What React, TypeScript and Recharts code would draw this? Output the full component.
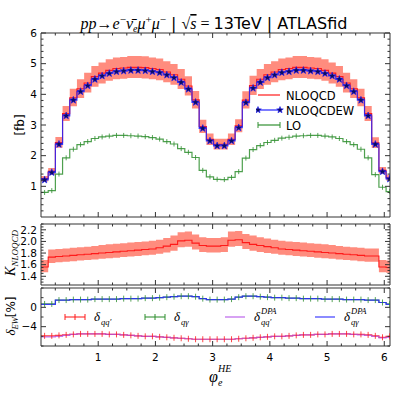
import { Area, ComposedChart, Legend, Line, Scatter, XAxis, YAxis } from "recharts"

// 50 bins in phi_e^HE over [0, 2pi]
const NBINS = 50
const binEdges = Array.from({ length: NBINS + 1 }, (_, i) => (i * 2 * Math.PI) / NBINS)
const binCenters = binEdges.slice(0, NBINS).map((e, i) => (e + binEdges[i + 1]) / 2)

// top panel [fb]
const nloqcd = [1.25, 1.49, 2.43, 3.37, 3.89, 4.18, 4.37, 4.58, 4.69, 4.78, 4.84, 4.86, 4.88, 4.88, 4.87, 4.84, 4.81, 4.73, 4.64, 4.49, 4.27, 3.82, 2.95, 2.53, 2.37,
  2.37, 2.53, 2.97, 3.81, 4.29, 4.49, 4.64, 4.73, 4.81, 4.84, 4.88, 4.88, 4.86, 4.84, 4.78, 4.69, 4.58, 4.37, 4.18, 3.89, 3.37, 2.42, 1.52, 1.28, 1.25]
const nloqcdHi = [1.34, 1.60, 2.61, 3.62, 4.18, 4.49, 4.70, 4.92, 5.04, 5.14, 5.20, 5.22, 5.25, 5.25, 5.24, 5.20, 5.17, 5.08, 4.99, 4.83, 4.59, 4.11, 3.17, 2.72, 2.55,
  2.55, 2.72, 3.19, 4.10, 4.61, 4.83, 4.99, 5.08, 5.17, 5.20, 5.25, 5.25, 5.22, 5.20, 5.14, 5.04, 4.92, 4.70, 4.49, 4.18, 3.62, 2.60, 1.63, 1.38, 1.34]
const nloqcdLo = [1.16, 1.38, 2.26, 3.13, 3.61, 3.88, 4.06, 4.25, 4.35, 4.44, 4.49, 4.51, 4.53, 4.53, 4.52, 4.49, 4.46, 4.39, 4.31, 4.17, 3.96, 3.54, 2.74, 2.35, 2.20,
  2.20, 2.35, 2.76, 3.54, 3.98, 4.17, 4.31, 4.39, 4.46, 4.49, 4.53, 4.53, 4.51, 4.49, 4.44, 4.35, 4.25, 4.06, 3.88, 3.61, 3.13, 2.25, 1.41, 1.19, 1.16]
const nloqcdew = [1.21, 1.45, 2.37, 3.30, 3.81, 4.09, 4.28, 4.49, 4.60, 4.68, 4.74, 4.76, 4.78, 4.78, 4.77, 4.74, 4.71, 4.63, 4.54, 4.39, 4.17, 3.74, 2.89, 2.48, 2.32,
  2.32, 2.48, 2.91, 3.73, 4.20, 4.39, 4.54, 4.63, 4.71, 4.74, 4.78, 4.78, 4.76, 4.74, 4.68, 4.60, 4.49, 4.28, 4.09, 3.81, 3.30, 2.37, 1.48, 1.24, 1.21]
const lo = [0.80, 0.86, 1.40, 1.93, 2.21, 2.36, 2.46, 2.56, 2.61, 2.64, 2.66, 2.66, 2.65, 2.64, 2.62, 2.59, 2.54, 2.46, 2.38, 2.23, 2.11, 1.94, 1.52, 1.31, 1.23,
  1.22, 1.29, 1.48, 1.92, 2.20, 2.33, 2.43, 2.50, 2.57, 2.60, 2.64, 2.65, 2.66, 2.66, 2.64, 2.61, 2.56, 2.46, 2.36, 2.21, 1.93, 1.38, 0.97, 0.83, 0.81]

// middle panel K factor
const kFactor = [1.56, 1.73, 1.74, 1.75, 1.76, 1.77, 1.78, 1.79, 1.80, 1.81, 1.82, 1.83, 1.84, 1.85, 1.86, 1.87, 1.89, 1.92, 1.95, 2.01, 2.02, 1.97, 1.93, 1.92, 1.92,
  1.93, 2.02, 2.03, 1.98, 1.95, 1.93, 1.91, 1.89, 1.87, 1.86, 1.85, 1.84, 1.83, 1.82, 1.81, 1.80, 1.79, 1.78, 1.77, 1.76, 1.75, 1.75, 1.56, 1.55, 1.55]
const kHi = [1.68, 1.86, 1.87, 1.88, 1.89, 1.90, 1.91, 1.92, 1.94, 1.95, 1.96, 1.97, 1.98, 1.99, 2.00, 2.01, 2.03, 2.06, 2.10, 2.16, 2.17, 2.12, 2.07, 2.06, 2.06,
  2.07, 2.17, 2.18, 2.13, 2.10, 2.07, 2.05, 2.03, 2.01, 2.00, 1.99, 1.98, 1.97, 1.96, 1.95, 1.94, 1.92, 1.91, 1.90, 1.89, 1.88, 1.88, 1.68, 1.67, 1.67]
const kLo = [1.47, 1.63, 1.64, 1.65, 1.66, 1.67, 1.68, 1.69, 1.70, 1.71, 1.72, 1.73, 1.74, 1.75, 1.76, 1.77, 1.79, 1.81, 1.84, 1.90, 1.91, 1.86, 1.82, 1.81, 1.81,
  1.82, 1.91, 1.92, 1.87, 1.84, 1.82, 1.80, 1.79, 1.77, 1.76, 1.75, 1.74, 1.73, 1.72, 1.71, 1.70, 1.69, 1.68, 1.67, 1.66, 1.65, 1.65, 1.47, 1.46, 1.46]

// bottom panel delta_EW [%]
const dQQ = [-5.9, -5.9, -5.8, -5.7, -5.6, -5.5, -5.5, -5.5, -5.5, -5.6, -5.6, -5.7, -5.8, -5.9, -6.0, -6.0, -6.1, -6.2, -6.3, -6.4, -6.5, -6.6, -6.6, -6.6, -6.6,
  -6.6, -6.6, -6.5, -6.4, -6.3, -6.2, -6.1, -6.0, -6.0, -5.9, -5.8, -5.7, -5.7, -5.6, -5.6, -5.5, -5.5, -5.5, -5.6, -5.6, -5.7, -5.9, -6.2, -6.0, -5.9]
const dQG = [0.7, 0.7, 1.5, 1.5, 1.6, 1.6, 1.6, 1.7, 1.7, 1.7, 1.7, 1.8, 1.8, 1.8, 1.9, 1.9, 2.0, 2.1, 2.2, 2.3, 2.3, 2.2, 1.8, 1.6, 1.6,
  1.6, 1.7, 2.1, 2.3, 2.3, 2.2, 2.1, 2.0, 2.0, 1.9, 1.9, 1.8, 1.8, 1.8, 1.7, 1.7, 1.7, 1.6, 1.6, 1.6, 1.5, 1.5, 1.0, 0.7, 0.7]
const dQQdpa = [-6.1, -6.1, -6.0, -5.8, -5.6, -5.5, -5.5, -5.5, -5.5, -5.6, -5.6, -5.7, -5.8, -5.9, -6.0, -6.0, -6.1, -6.2, -6.3, -6.4, -6.5, -6.6, -6.6, -6.6, -6.6,
  -6.6, -6.6, -6.5, -6.4, -6.3, -6.2, -6.1, -6.0, -6.0, -5.9, -5.8, -5.7, -5.7, -5.6, -5.6, -5.5, -5.5, -5.5, -5.6, -5.7, -5.8, -6.0, -6.3, -6.2, -6.1]
const dQGdpa = [0.6, 0.6, 1.5, 1.5, 1.6, 1.6, 1.6, 1.7, 1.7, 1.7, 1.7, 1.8, 1.8, 1.8, 1.9, 1.9, 2.0, 2.1, 2.2, 2.3, 2.3, 2.2, 1.8, 1.6, 1.6,
  1.6, 1.7, 2.1, 2.3, 2.3, 2.2, 2.1, 2.0, 2.0, 1.9, 1.9, 1.8, 1.8, 1.8, 1.7, 1.7, 1.7, 1.6, 1.6, 1.6, 1.5, 1.5, 1.0, 0.6, 0.6]

// axes
const X_DOMAIN: [number, number] = [0, 6.1]
const xLabels = [1, 2, 3, 4, 5, 6]
const topYLabels = [1, 2, 3, 4, 5, 6]
const kYLabels = [1.4, 1.6, 1.8, 2.0, 2.2]
const ewYLabels = [0, -4]

const steps = (from: number, to: number, step: number) => {
  const out: number[] = []
  for (let v = from; v <= to + 1e-9; v += step) out.push(Math.round(v * 1000) / 1000)
  return out
}
const xTicks = steps(0.25, 6, 0.25)
const topYTicks = steps(0.2, 6, 0.2)
const kYTicks = steps(1.3, 2.3, 0.05)
const ewYTicks = steps(-8, 4, 2)

const FRAME = "#333"
const SANS = "DejaVu Sans, sans-serif"
const SERIF = "Liberation Serif, DejaVu Serif, serif"

const isIn = (v: number, list: number[]) => list.some((m) => Math.abs(m - v) < 1e-6)
const fmtNum = (v: number, dec: number) => (v < 0 ? "\u2212" : "") + Math.abs(v).toFixed(dec)

function makeTick(side: string, majors: number[], labels: number[] | null, dec = 0) {
  return (p: any) => {
    const v = p.payload.value
    const major = isIn(v, majors)
    const len = major ? 5 : 2.5
    const { x, y } = p
    let l = null
    if (side === "bottom") l = <line x1={x} x2={x} y1={y} y2={y - len} stroke={FRAME} />
    if (side === "top") l = <line x1={x} x2={x} y1={y} y2={y + len} stroke={FRAME} />
    if (side === "left") l = <line x1={x} x2={x + len} y1={y} y2={y} stroke={FRAME} />
    if (side === "right") l = <line x1={x} x2={x - len} y1={y} y2={y} stroke={FRAME} />
    let t = null
    if (labels && isIn(v, labels)) {
      if (side === "bottom")
        t = <text x={x} y={y + 15} textAnchor="middle" fontSize={10.5} fontFamily={SANS} fill="#000">{fmtNum(v, dec)}</text>
      if (side === "left")
        t = <text x={x - 4} y={y + 3.8} textAnchor="end" fontSize={10.5} fontFamily={SANS} fill="#000">{fmtNum(v, dec)}</text>
    }
    return <g>{l}{t}</g>
  }
}

function stepRows(cols: Record<string, number[]>, bands: Record<string, [number[], number[]]> = {}) {
  return binEdges.map((x, e) => {
    const i = Math.min(e, NBINS - 1)
    const row: any = { x }
    for (const k in cols) row[k] = cols[k][i]
    for (const k in bands) row[k] = [bands[k][0][i], bands[k][1][i]]
    return row
  })
}

const topRows = stepRows({ nlo: nloqcd, ew: nloqcdew, lo }, { band: [nloqcdLo, nloqcdHi] })
const topPoints = binCenters.map((x, i) => ({ x, ew: nloqcdew[i], lo: lo[i] }))
const kRows = stepRows({ k: kFactor }, { band: [kLo, kHi] })
const ewRows = stepRows({ qq: dQQ, qg: dQG, qqd: dQQdpa, qgd: dQGdpa })
const ewPoints = binCenters.map((x, i) => ({ x, qq: dQQ[i], qg: dQG[i] }))

const RED = "#ff1a1a"
const BAND = "#ff7f70"
const BLUE = "#2323ff"
const GREEN = "#2f8f2f"
const VIOLET = "#b44ee8"

function Star({ cx, cy, r = 4 }: any) {
  const pts: string[] = []
  for (let i = 0; i < 10; i++) {
    const rr = i % 2 === 0 ? r : r * 0.42
    const a = -Math.PI / 2 + (i * Math.PI) / 5
    pts.push(`${cx + rr * Math.cos(a)},${cy + rr * Math.sin(a)}`)
  }
  return <polygon points={pts.join(" ")} fill="#0d0d5c" stroke="#1a1aff" strokeWidth={0.6} />
}

const errTick = (color: string, h: number) => ({ cx, cy }: any) => (
  <line x1={cx} x2={cx} y1={cy - h} y2={cy + h} stroke={color} strokeWidth={1} opacity={0.8} />
)

// axes are 1px thick boxes: the frame line sits on the plot edge, ticks point inward
function axes(yDomain: [number, number], yTicks: number[], yMajors: number[], yLabels: number[] | null, yDec: number, xLabelsOn: boolean) {
  return [
    <XAxis key="xb" xAxisId="b" dataKey="x" type="number" domain={X_DOMAIN} allowDataOverflow ticks={xTicks} interval={0}
      height={1} tickSize={0} tickMargin={0} axisLine={{ stroke: FRAME }} tick={makeTick("bottom", xLabels, xLabelsOn ? xLabels : null)} />,
    <XAxis key="xt" xAxisId="t" orientation="top" dataKey="x" type="number" domain={X_DOMAIN} allowDataOverflow ticks={xTicks} interval={0}
      height={1} tickSize={0} tickMargin={0} axisLine={{ stroke: FRAME }} tick={makeTick("top", xLabels, null)} />,
    <YAxis key="yl" yAxisId="l" type="number" domain={yDomain} allowDataOverflow ticks={yTicks} interval={0}
      width={1} tickSize={0} tickMargin={0} axisLine={{ stroke: FRAME }} tick={makeTick("left", yMajors, yLabels, yDec)} />,
    <YAxis key="yr" yAxisId="r" orientation="right" type="number" domain={yDomain} allowDataOverflow ticks={yTicks} interval={0}
      width={1} tickSize={0} tickMargin={0} axisLine={{ stroke: FRAME }} tick={makeTick("right", yMajors, null)} />,
  ]
}

function TopLegend() {
  const rows = [
    { name: "NLOQCD", color: RED, mark: "none" },
    { name: "NLOQCDEW", color: BLUE, mark: "star" },
    { name: "LO", color: GREEN, mark: "err" },
  ]
  return (
    <svg width={120} height={50}>
      {rows.map((r, i) => (
        <g key={r.name} transform={`translate(0, ${7 + i * 15})`}>
          <line x1={2} x2={24} y1={0} y2={0} stroke={r.color} strokeWidth={1.2} />
          {r.mark === "star" && <><Star cx={2} cy={0} r={3.5} /><Star cx={24} cy={0} r={3.5} /></>}
          {r.mark === "err" && <><line x1={2} x2={2} y1={-3} y2={3} stroke={GREEN} /><line x1={24} x2={24} y1={-3} y2={3} stroke={GREEN} /></>}
          <text x={30} y={4.5} fontSize={11.5} fontFamily={SANS} fill="#000">{r.name}</text>
        </g>
      ))}
    </svg>
  )
}

function EwLegend() {
  const items = [
    { x: 4, color: RED, err: true, sub: "qq\u2032", sup: "" },
    { x: 84, color: GREEN, err: true, sub: "q\u03b3", sup: "" },
    { x: 164, color: VIOLET, err: false, sub: "qq\u2032", sup: "DPA" },
    { x: 254, color: BLUE, err: false, sub: "q\u03b3", sup: "DPA" },
  ]
  return (
    <svg width={340} height={24}>
      {items.map((it) => (
        <g key={it.x} transform={`translate(${it.x}, 12)`}>
          <line x1={0} x2={20} y1={0} y2={0} stroke={it.color} strokeWidth={1.4} opacity={0.75} />
          {it.err && <>
            <line x1={0} x2={0} y1={-3} y2={3} stroke={it.color} />
            <line x1={10} x2={10} y1={-3} y2={3} stroke={it.color} />
            <line x1={20} x2={20} y1={-3} y2={3} stroke={it.color} />
          </>}
          <text x={29} y={4} fontFamily={SERIF} fontStyle="italic" fontSize={13} fill="#000">δ</text>
          <text x={36} y={8} fontFamily={SERIF} fontStyle="italic" fontSize={8.5} fill="#000">{it.sub}</text>
          {it.sup && <text x={36} y={-3} fontFamily={SERIF} fontStyle="italic" fontSize={8.5} fill="#000">{it.sup}</text>}
        </g>
      ))}
    </svg>
  )
}

function Overlay() {
  return (
    <svg width={399} height={399} style={{ position: "absolute", left: 0, top: 0, pointerEvents: "none" }}>
      <text x={214} y={29} textAnchor="middle" fontSize={16} fill="#000">
        <tspan fontFamily={SERIF} fontStyle="italic">pp</tspan>
        <tspan fontFamily={SERIF}>→</tspan>
        <tspan fontFamily={SERIF} fontStyle="italic">e</tspan>
        <tspan fontFamily={SERIF} fontSize={11} dy={-6}>−</tspan>
        <tspan fontFamily={SERIF} fontStyle="italic" dy={6}>ν̄</tspan>
        <tspan fontFamily={SERIF} fontStyle="italic" fontSize={10} dy={3}>e</tspan>
        <tspan fontFamily={SERIF} fontStyle="italic" dy={-3}>μ</tspan>
        <tspan fontFamily={SERIF} fontSize={11} dy={-6}>+</tspan>
        <tspan fontFamily={SERIF} fontStyle="italic" dy={6}>μ</tspan>
        <tspan fontFamily={SERIF} fontSize={11} dy={-6}>−</tspan>
        <tspan fontFamily={SANS} dy={6}> | </tspan>
        <tspan fontFamily={SERIF}>√</tspan>
        <tspan fontFamily={SERIF} fontStyle="italic" textDecoration="overline">s</tspan>
        <tspan fontFamily={SERIF}> = </tspan>
        <tspan fontFamily={SANS}>13TeV | ATLASfid</tspan>
      </text>
      <text transform="translate(24,125) rotate(-90)" textAnchor="middle" fontSize={12} fontFamily={SANS} fill="#000">[fb]</text>
      <text transform="translate(15,253) rotate(-90)" textAnchor="middle" fontSize={14} fontFamily={SERIF} fontStyle="italic" fill="#000">
        K<tspan fontSize={9} dy={3}>NLOQCD</tspan>
      </text>
      <text transform="translate(15,316) rotate(-90)" textAnchor="middle" fontSize={13} fontFamily={SERIF} fill="#000">
        <tspan fontStyle="italic">δ</tspan>
        <tspan fontStyle="italic" fontSize={8.5} dy={3}>EW</tspan>
        <tspan fontFamily={SANS} fontSize={12} dy={-3}>[%]</tspan>
      </text>
      <text x={209} y={382} fontSize={16} fontFamily={SERIF} fontStyle="italic" fill="#000">φ</text>
      <text x={218} y={386} fontSize={10} fontFamily={SERIF} fontStyle="italic" fill="#000">e</text>
      <text x={218} y={372} fontSize={10} fontFamily={SERIF} fontStyle="italic" fill="#000">HE</text>
    </svg>
  )
}

export default function App() {
  return (
    <div style={{ position: "absolute", left: 0, top: 0, width: 399, height: 399, background: "#fff", overflow: "hidden" }}>
      <div style={{ position: "absolute", left: 0, top: 0 }}>
        <ComposedChart width={399} height={222} data={topRows} margin={{ top: 32, right: 8, bottom: 4, left: 40 }}>
          {axes([0, 6], topYTicks, topYLabels, topYLabels, 0, false)}
          <Area xAxisId="b" yAxisId="l" dataKey="band" type="stepAfter" stroke="none" fill={BAND} fillOpacity={0.9} isAnimationActive={false} />
          <Line xAxisId="b" yAxisId="l" dataKey="lo" type="stepAfter" stroke={GREEN} strokeWidth={1.2} strokeOpacity={0.85} dot={false} isAnimationActive={false} />
          <Line xAxisId="b" yAxisId="l" dataKey="nlo" type="stepAfter" stroke={RED} strokeWidth={1.1} dot={false} isAnimationActive={false} />
          <Line xAxisId="b" yAxisId="l" dataKey="ew" type="stepAfter" stroke={BLUE} strokeWidth={1.2} strokeOpacity={0.85} dot={false} isAnimationActive={false} />
          <Scatter xAxisId="b" yAxisId="l" data={topPoints} dataKey="lo" shape={errTick(GREEN, 2.5)} isAnimationActive={false} />
          <Scatter xAxisId="b" yAxisId="l" data={topPoints} dataKey="ew" shape={(p: any) => <Star {...p} r={3.8} />} isAnimationActive={false} />
          <Legend layout="vertical" align="center" verticalAlign="middle" content={TopLegend}
            wrapperStyle={{ left: 256, top: 88, width: 120, height: 50 }} />
        </ComposedChart>
      </div>
      <div style={{ position: "absolute", left: 0, top: 220 }}>
        <ComposedChart width={399} height={70} data={kRows} margin={{ top: 3, right: 8, bottom: 4, left: 40 }}>
          {axes([1.25, 2.3], kYTicks, kYLabels, kYLabels, 1, false)}
          <Area xAxisId="b" yAxisId="l" dataKey="band" type="stepAfter" stroke="none" fill={BAND} fillOpacity={0.9} isAnimationActive={false} />
          <Line xAxisId="b" yAxisId="l" dataKey="k" type="stepAfter" stroke={RED} strokeWidth={1.1} dot={false} isAnimationActive={false} />
        </ComposedChart>
      </div>
      <div style={{ position: "absolute", left: 0, top: 283 }}>
        <ComposedChart width={399} height={116} data={ewRows} margin={{ top: 4, right: 8, bottom: 52, left: 40 }}>
          {axes([-8, 4], ewYTicks, ewYLabels, ewYLabels, 0, true)}
          <Line xAxisId="b" yAxisId="l" dataKey="qg" type="stepAfter" stroke={GREEN} strokeWidth={1.2} strokeOpacity={0.8} dot={false} isAnimationActive={false} />
          <Line xAxisId="b" yAxisId="l" dataKey="qgd" type="stepAfter" stroke={BLUE} strokeWidth={1.2} strokeOpacity={0.85} dot={false} isAnimationActive={false} />
          <Line xAxisId="b" yAxisId="l" dataKey="qq" type="stepAfter" stroke={RED} strokeWidth={1.2} strokeOpacity={0.85} dot={false} isAnimationActive={false} />
          <Line xAxisId="b" yAxisId="l" dataKey="qqd" type="stepAfter" stroke={VIOLET} strokeWidth={1.2} strokeOpacity={0.75} dot={false} isAnimationActive={false} />
          <Scatter xAxisId="b" yAxisId="l" data={ewPoints} dataKey="qq" shape={errTick(RED, 3)} isAnimationActive={false} />
          <Scatter xAxisId="b" yAxisId="l" data={ewPoints} dataKey="qg" shape={errTick(GREEN, 3)} isAnimationActive={false} />
          <Legend layout="vertical" align="center" verticalAlign="middle" content={EwLegend}
            wrapperStyle={{ left: 61, top: 22, width: 340, height: 24 }} />
        </ComposedChart>
      </div>
      <Overlay />
    </div>
  )
}
